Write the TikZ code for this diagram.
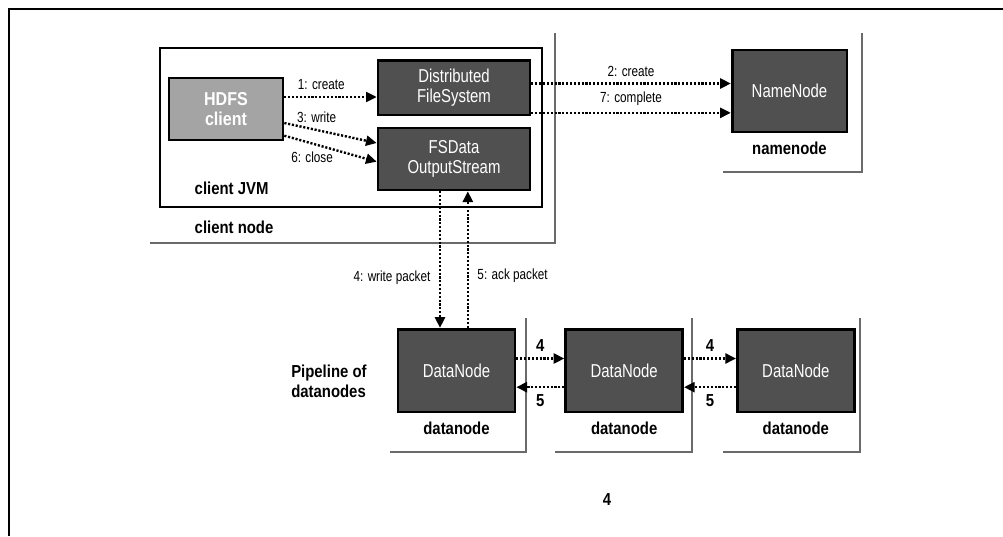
\documentclass[tikz,border=0pt]{standalone}
\usepackage{fontspec}
\setmainfont{Liberation Sans}[FakeStretch=0.8,BoldFeatures={FakeStretch=0.86}]
\usetikzlibrary{arrows.meta,positioning}
\definecolor{procdark}{HTML}{505050}
\definecolor{proclight}{HTML}{A4A4A4}
\definecolor{hostgray}{HTML}{6A6A6A}

\begin{document}
\begin{tikzpicture}[
  x=0.75pt,y=-0.75pt,
  >={Triangle[length=8pt,width=7.5pt]},
  proc/.style={draw,line width=2pt,fill=procdark,text=white,align=center,inner sep=2pt,
    minimum width=87.75pt,minimum height=62pt,font=\fontsize{14}{15}\selectfont},
  msg/.style={->,line width=1.8pt,dash pattern=on 1.6pt off 1.3pt},
  host/.style={hostgray,line width=2pt},
  lbl/.style={font=\fontsize{11}{13}\selectfont},
  title/.style={font=\bfseries\fontsize{13}{15}\selectfont}
]
  \useasboundingbox (0,0) rectangle (1003,536);
  \draw[line width=1pt] (1003,9) -- (9,9) -- (9,536);

  \draw[host] (150,243) -| (555,33);
  \draw[line width=2pt] (160,48) rectangle (542,207);
  \node[proc,fill=proclight,font=\bfseries\fontsize{14}{15}\selectfont,
    minimum width=85.5pt,minimum height=46.5pt] (client) at (226,109) {HDFS\\client};
  \node[proc,minimum width=114pt,minimum height=41pt] (dfs) at (454,87.5) {Distributed\\FileSystem};
  \node[proc,minimum width=114pt,minimum height=46.5pt] (fsdos) at (454,159) {FSData\\OutputStream};
  \node[title,anchor=west] (jvmlbl) at (190,188) {client JVM};
  \node[title,anchor=west] (clientlbl) at (190,227) {client node};

  \draw[host] (723,172) -| (862,33);
  \node[proc,minimum width=86pt,minimum height=61.5pt] (namenode) at (789.5,91) {NameNode};
  \node[title,below=3pt of namenode] (namelbl) {namenode};

  \node[proc] (dn1) at (456.5,370.5) {DataNode};
  \node[proc,right=36pt of dn1] (dn2) {DataNode};
  \node[proc,right=39pt of dn2] (dn3) {DataNode};
  \node[title,below=3pt of dn1] (dn1lbl) {datanode};
  \node[title,below=3pt of dn2] (dn2lbl) {datanode};
  \node[title,below=3pt of dn3] (dn3lbl) {datanode};
  \node[title,align=left,left=19pt of dn1,yshift=-8pt] (pipelbl) {Pipeline of\\datanodes};
  \draw[host] (390,452) -| (526,318);
  \draw[host] (555,452) -| (692,318);
  \draw[host] (723,452) -| (860,318);

  \draw[msg] ([yshift=9pt]client.east) -- node[lbl,above=1pt,pos=.4]{1: create} ([yshift=9pt]client.east -| dfs.west);
  \draw[msg] ([yshift=-10.5pt]client.east) -- node[lbl,above=1pt,pos=.35]{3: write} ([yshift=12pt]fsdos.west);
  \draw[msg] ([yshift=-20pt]client.east) -- node[lbl,below=2pt,pos=.3]{6: close} ([yshift=-2pt]fsdos.west);
  \draw[msg] ([yshift=3pt]dfs.east) -- node[lbl,above=1pt]{2: create} ([yshift=3pt]dfs.east -| namenode.west);
  \draw[msg] ([yshift=-19pt]dfs.east) -- node[lbl,above=1pt]{7: complete} ([yshift=-19pt]dfs.east -| namenode.west);

  \draw[msg] ([xshift=-10.5pt]fsdos.south) -- node[lbl,left=3pt,pos=.63]{4: write packet} ([xshift=-10.5pt]fsdos.south |- dn1.north);
  \draw[msg] ([xshift=8.5pt]dn1.north) -- node[lbl,right=3pt,pos=.38]{5: ack packet} ([xshift=8.5pt]dn1.north |- fsdos.south);

  \draw[msg] ([yshift=9pt]dn1.east) -- node[title,above=1pt]{4} ([yshift=9pt]dn1.east -| dn2.west);
  \draw[msg] ([yshift=-12.5pt]dn2.west) -- node[title,below=1pt]{5} ([yshift=-12.5pt]dn2.west -| dn1.east);
  \draw[msg] ([yshift=9pt]dn2.east) -- node[title,above=1pt]{4} ([yshift=9pt]dn2.east -| dn3.west);
  \draw[msg] ([yshift=-12.5pt]dn3.west) -- node[title,below=1pt]{5} ([yshift=-12.5pt]dn3.west -| dn2.east);

  \node[title] (pagenum) at (607,500) {4};
\end{tikzpicture}
\end{document}
